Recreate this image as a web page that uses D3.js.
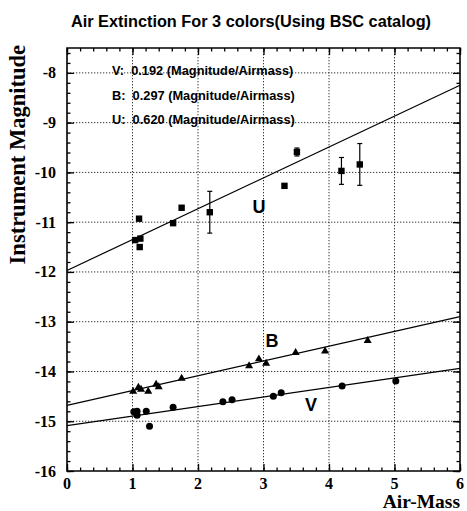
<!DOCTYPE html>
<html>
<head>
<meta charset="utf-8">
<script src="https://cdn.jsdelivr.net/npm/d3@7"></script>
<style>
  body { margin: 0; background: #fff; }
  .tick-label { font-family: "Liberation Serif", "Times New Roman", serif; font-weight: bold; font-size: 16px; }
</style>
</head>
<body>
<script>
// air-mass / magnitude readings per filter
const uAir = [1.04, 1.12, 1.10, 1.11, 1.62, 1.75, 2.18, 3.32, 3.51, 4.19, 4.47];
const uMag = [-11.36, -11.33, -10.93, -11.50, -11.02, -10.71, -10.80, -10.27, -9.59, -9.97, -9.84];
const uErr = [0, 0, 0, 0, 0, 0, 0.42, 0, 0.08, 0.27, 0.42];

const bAir = [1.01, 1.09, 1.13, 1.24, 1.36, 1.40, 1.75, 2.78, 2.93, 3.04, 3.49, 3.94, 4.59];
const bMag = [-14.40, -14.32, -14.36, -14.40, -14.26, -14.31, -14.14, -13.89, -13.75, -13.84, -13.62, -13.59, -13.38];

const vAir = [1.02, 1.07, 1.07, 1.21, 1.26, 1.62, 2.38, 2.52, 3.15, 3.27, 4.20, 5.02];
const vMag = [-14.81, -14.80, -14.88, -14.80, -15.10, -14.72, -14.61, -14.57, -14.50, -14.43, -14.29, -14.19];

// fitted lines
const fitNames = ["V", "B", "U"];
const fitSlopes = [0.192, 0.297, 0.620];
const fitIntercepts = [-15.09, -14.68, -11.97];

const xTicks = [0, 1, 2, 3, 4, 5, 6];
const yTicks = [-16, -15, -14, -13, -12, -11, -10, -9, -8];

const W = 467, H = 511;
const margin = { top: 48, right: 7, bottom: 40, left: 67 };
const width = W - margin.left - margin.right,
      height = H - margin.top - margin.bottom;

const svg = d3.select("body").append("svg")
    .attr("width", W)
    .attr("height", H);

const g = svg.append("g").attr("transform", "translate(" + margin.left + "," + margin.top + ")");

const x = d3.scaleLinear().domain([0, 6]).range([0, width]);
const y = d3.scaleLinear().domain([-16, -7.5]).range([height, 0]);

// title
svg.append("text")
    .attr("x", 251).attr("y", 27)
    .attr("text-anchor", "middle")
    .style("font-family", "'Liberation Sans', Arial, sans-serif")
    .style("font-weight", "bold")
    .style("font-size", "16.3px")
    .text("Air Extinction For 3 colors(Using BSC catalog)");

// dotted grid
const gridD = xTicks.slice(1, -1).map(d => "M" + x(d) + ",0V" + height).join("") +
              yTicks.slice(1).map(d => "M0," + y(d) + "H" + width).join("");
g.append("path")
    .attr("d", gridD)
    .attr("fill", "none")
    .attr("stroke", "#333")
    .attr("stroke-width", 1)
    .attr("stroke-dasharray", "1.3,1.7");

// ticks on all four sides: minor every 0.2, major every 1
const xMinor = d3.range(0, 6.001, 0.2), yMinor = d3.range(-16, -7.49, 0.2);
function ticksOn(axisFn, scale, minor, major) {
    return sel => {
        sel.append("g").call(axisFn(scale).tickValues(minor).tickSize(3.5).tickFormat(""));
        sel.append("g").call(axisFn(scale).tickValues(major).tickSize(7).tickFormat(""));
        sel.selectAll(".domain").remove();
        sel.selectAll(".tick line").attr("stroke", "#000").attr("stroke-width", 1.3);
    };
}
g.append("g").attr("transform", "translate(0," + height + ")")
    .call(ticksOn(d3.axisTop, x, xMinor, xTicks));
g.append("g").call(ticksOn(d3.axisBottom, x, xMinor, xTicks));
g.append("g").call(ticksOn(d3.axisRight, y, yMinor, yTicks));
g.append("g").attr("transform", "translate(" + width + ",0)")
    .call(ticksOn(d3.axisLeft, y, yMinor, yTicks));

// frame
g.append("path")
    .attr("d", "M0,0H" + width + "V" + height + "H0Z")
    .attr("fill", "none").attr("stroke", "#000").attr("stroke-width", 1.6);

// tick labels
g.selectAll(".xl").data(xTicks).enter().append("text")
    .attr("class", "tick-label")
    .attr("x", d => x(d)).attr("y", height + 18)
    .attr("text-anchor", "middle")
    .text(d => d);
g.selectAll(".yl").data(yTicks).enter().append("text")
    .attr("class", "tick-label")
    .attr("x", -11).attr("y", d => y(d) + 5.5)
    .attr("text-anchor", "end")
    .text(d => d);

// axis titles
svg.append("text")
    .attr("class", "tick-label")
    .attr("x", 460).attr("y", 508)
    .attr("text-anchor", "end")
    .style("font-size", "19.5px")
    .text("Air-Mass");
svg.append("text")
    .attr("class", "tick-label")
    .attr("transform", "translate(25,45) rotate(-90)")
    .attr("text-anchor", "end")
    .style("font-size", "22.5px")
    .text("Instrument Magnitude");

// fit lines
fitSlopes.forEach((s, i) => {
    g.append("line")
        .attr("x1", x(0)).attr("y1", y(fitIntercepts[i]))
        .attr("x2", x(6)).attr("y2", y(fitIntercepts[i] + 6 * s))
        .attr("stroke", "#000").attr("stroke-width", 1.2);
});

// U: squares with error bars
const uData = uAir.map((a, i) => ({ a: a, m: uMag[i], e: uErr[i] }));
const eb = g.selectAll(".eb").data(uData.filter(d => d.e > 0)).enter().append("g");
eb.append("line")
    .attr("x1", d => x(d.a)).attr("x2", d => x(d.a))
    .attr("y1", d => y(d.m - d.e)).attr("y2", d => y(d.m + d.e))
    .attr("stroke", "#000").attr("stroke-width", 1.2);
eb.selectAll(".cap").data(d => [[d.a, d.m - d.e], [d.a, d.m + d.e]]).enter().append("line")
    .attr("x1", d => x(d[0]) - 2.5).attr("x2", d => x(d[0]) + 2.5)
    .attr("y1", d => y(d[1])).attr("y2", d => y(d[1]))
    .attr("stroke", "#000").attr("stroke-width", 1.2);
g.selectAll(".u").data(uData).enter().append("rect")
    .attr("x", d => x(d.a) - 3.2).attr("y", d => y(d.m) - 3.2)
    .attr("width", 6.4).attr("height", 6.4)
    .attr("fill", "#000");

// B: triangles
g.selectAll(".b").data(bAir).enter().append("path")
    .attr("d", d3.symbol(d3.symbolTriangle, 28))
    .attr("transform", (d, i) => "translate(" + x(d) + "," + y(bMag[i]) + ")")
    .attr("fill", "#000");

// V: circles
g.selectAll(".v").data(vAir).enter().append("circle")
    .attr("cx", d => x(d)).attr("cy", (d, i) => y(vMag[i]))
    .attr("r", 3.5)
    .attr("fill", "#000");

// slope notes
fitNames.forEach((n, i) => {
    svg.append("text")
        .attr("x", 112).attr("y", 75 + i * 24.5)
        .style("font-family", "'Liberation Sans', Arial, sans-serif")
        .style("font-weight", "bold")
        .style("font-size", "12.8px")
        .style("white-space", "pre")
        .text(n + ":  " + fitSlopes[i].toFixed(3) + " (Magnitude/Airmass)");
});

// curve labels
const curveLabels = [["U", 259, 213], ["B", 272, 347], ["V", 311, 411]];
curveLabels.forEach(c => {
    svg.append("text")
        .attr("x", c[1]).attr("y", c[2])
        .attr("text-anchor", "middle")
        .style("font-family", "'Liberation Sans', Arial, sans-serif")
        .style("font-weight", "bold")
        .style("font-size", "18px")
        .text(c[0]);
});
</script>
</body>
</html>
